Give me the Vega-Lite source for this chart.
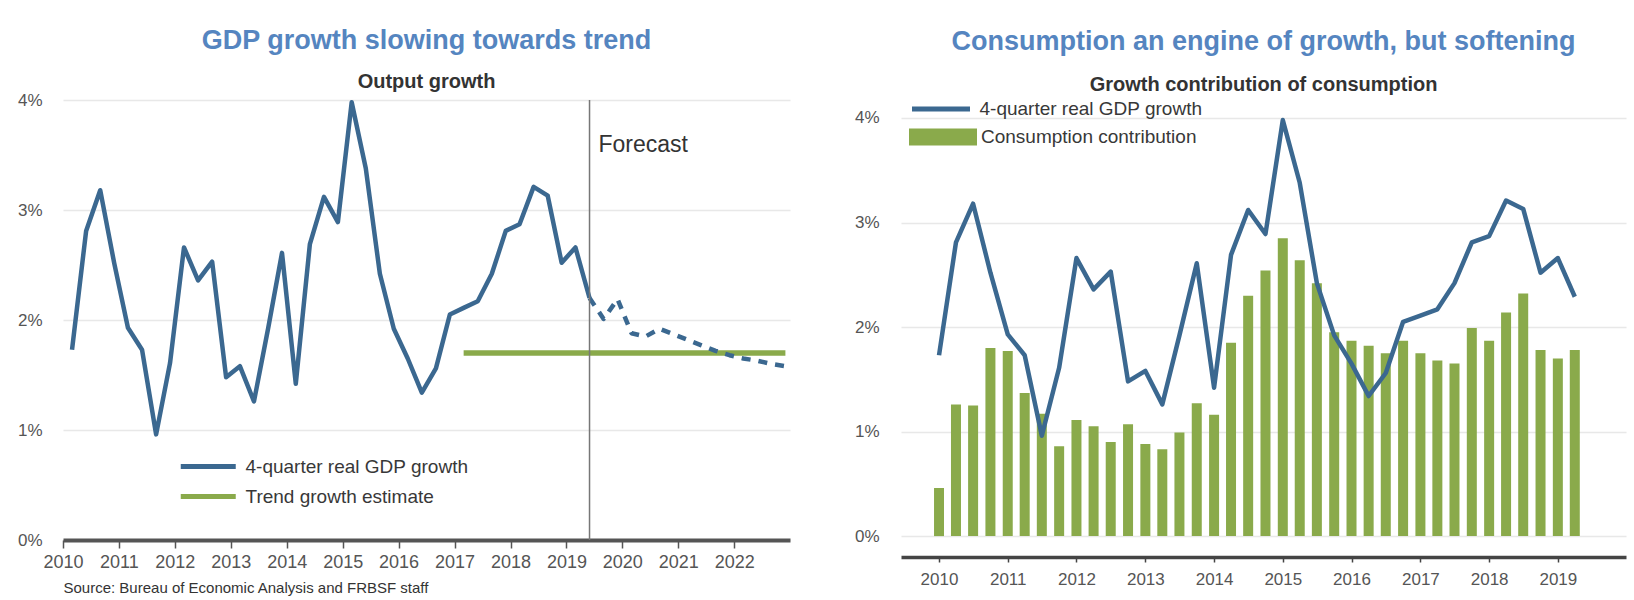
{
  "$schema": "https://vega.github.io/schema/vega-lite/v6.json",
  "background": "white",
  "padding": {"left": 17, "top": 27, "right": 4, "bottom": 4},
  "spacing": 57,
  "config": {
    "font": "Liberation Sans",
    "view": {"stroke": null},
    "axis": {"labelFont": "Liberation Sans", "titleFont": "Liberation Sans", "labelColor": "#555555", "labelFontSize": 17},
    "legend": {"labelFont": "Liberation Sans", "labelFontSize": 19, "labelColor": "#383838", "title": null, "labelLimit": 0},
    "title": {"font": "Liberation Sans", "subtitleFont": "Liberation Sans", "anchor": "middle", "fontSize": 27, "fontWeight": "bold", "color": "#5585c0", "subtitleFontSize": 20, "subtitleFontWeight": "bold", "subtitleColor": "#333333"}
  },
  "datasets": {
    "actual": [
      {"date": "2010-03-01", "gdp": 1.73}, {"date": "2010-06-01", "gdp": 2.81}, {"date": "2010-09-01", "gdp": 3.18}, {"date": "2010-12-01", "gdp": 2.52},
      {"date": "2011-03-01", "gdp": 1.93}, {"date": "2011-06-01", "gdp": 1.73}, {"date": "2011-09-01", "gdp": 0.96}, {"date": "2011-12-01", "gdp": 1.61},
      {"date": "2012-03-01", "gdp": 2.66}, {"date": "2012-06-01", "gdp": 2.36}, {"date": "2012-09-01", "gdp": 2.53}, {"date": "2012-12-01", "gdp": 1.48},
      {"date": "2013-03-01", "gdp": 1.58}, {"date": "2013-06-01", "gdp": 1.26}, {"date": "2013-09-01", "gdp": 1.92}, {"date": "2013-12-01", "gdp": 2.61},
      {"date": "2014-03-01", "gdp": 1.42}, {"date": "2014-06-01", "gdp": 2.69}, {"date": "2014-09-01", "gdp": 3.12}, {"date": "2014-12-01", "gdp": 2.89},
      {"date": "2015-03-01", "gdp": 3.98}, {"date": "2015-06-01", "gdp": 3.38}, {"date": "2015-09-01", "gdp": 2.42}, {"date": "2015-12-01", "gdp": 1.92},
      {"date": "2016-03-01", "gdp": 1.65}, {"date": "2016-06-01", "gdp": 1.34}, {"date": "2016-09-01", "gdp": 1.56}, {"date": "2016-12-01", "gdp": 2.05},
      {"date": "2017-03-01", "gdp": 2.11}, {"date": "2017-06-01", "gdp": 2.17}, {"date": "2017-09-01", "gdp": 2.42}, {"date": "2017-12-01", "gdp": 2.81},
      {"date": "2018-03-01", "gdp": 2.87}, {"date": "2018-06-01", "gdp": 3.21}, {"date": "2018-09-01", "gdp": 3.13}, {"date": "2018-12-01", "gdp": 2.52},
      {"date": "2019-03-01", "gdp": 2.66}, {"date": "2019-06-01", "gdp": 2.20}
    ],
    "forecast": [
      {"date": "2019-06-01", "gdp": 2.20}, {"date": "2019-09-01", "gdp": 2.01}, {"date": "2019-12-01", "gdp": 2.19},
      {"date": "2020-03-01", "gdp": 1.88}, {"date": "2020-06-01", "gdp": 1.85}, {"date": "2020-09-01", "gdp": 1.92}, {"date": "2020-12-01", "gdp": 1.87},
      {"date": "2021-03-01", "gdp": 1.82}, {"date": "2021-06-01", "gdp": 1.77}, {"date": "2021-09-01", "gdp": 1.72}, {"date": "2021-12-01", "gdp": 1.68},
      {"date": "2022-03-01", "gdp": 1.65}, {"date": "2022-06-01", "gdp": 1.63}, {"date": "2022-09-01", "gdp": 1.60}, {"date": "2022-12-01", "gdp": 1.58}
    ],
    "trend": [
      {"date": "2017-03-01", "gdp": 1.7}, {"date": "2022-12-01", "gdp": 1.7}
    ],
    "marker": [
      {"date": "2019-06-01", "gdp": 3.59, "label": "Forecast"}
    ],
    "cons": [
      {"date": "2010-01-01", "gdp": 1.73, "cons": 0.46}, {"date": "2010-04-01", "gdp": 2.81, "cons": 1.26}, {"date": "2010-07-01", "gdp": 3.18, "cons": 1.25}, {"date": "2010-10-01", "gdp": 2.52, "cons": 1.80},
      {"date": "2011-01-01", "gdp": 1.93, "cons": 1.77}, {"date": "2011-04-01", "gdp": 1.73, "cons": 1.37}, {"date": "2011-07-01", "gdp": 0.96, "cons": 1.17}, {"date": "2011-10-01", "gdp": 1.61, "cons": 0.86},
      {"date": "2012-01-01", "gdp": 2.66, "cons": 1.11}, {"date": "2012-04-01", "gdp": 2.36, "cons": 1.05}, {"date": "2012-07-01", "gdp": 2.53, "cons": 0.90}, {"date": "2012-10-01", "gdp": 1.48, "cons": 1.07},
      {"date": "2013-01-01", "gdp": 1.58, "cons": 0.88}, {"date": "2013-04-01", "gdp": 1.26, "cons": 0.83}, {"date": "2013-07-01", "gdp": 1.92, "cons": 0.99}, {"date": "2013-10-01", "gdp": 2.61, "cons": 1.27},
      {"date": "2014-01-01", "gdp": 1.42, "cons": 1.16}, {"date": "2014-04-01", "gdp": 2.69, "cons": 1.85}, {"date": "2014-07-01", "gdp": 3.12, "cons": 2.30}, {"date": "2014-10-01", "gdp": 2.89, "cons": 2.54},
      {"date": "2015-01-01", "gdp": 3.98, "cons": 2.85}, {"date": "2015-04-01", "gdp": 3.38, "cons": 2.64}, {"date": "2015-07-01", "gdp": 2.42, "cons": 2.42}, {"date": "2015-10-01", "gdp": 1.92, "cons": 1.95},
      {"date": "2016-01-01", "gdp": 1.65, "cons": 1.87}, {"date": "2016-04-01", "gdp": 1.34, "cons": 1.82}, {"date": "2016-07-01", "gdp": 1.56, "cons": 1.75}, {"date": "2016-10-01", "gdp": 2.05, "cons": 1.87},
      {"date": "2017-01-01", "gdp": 2.11, "cons": 1.75}, {"date": "2017-04-01", "gdp": 2.17, "cons": 1.68}, {"date": "2017-07-01", "gdp": 2.42, "cons": 1.65}, {"date": "2017-10-01", "gdp": 2.81, "cons": 1.99},
      {"date": "2018-01-01", "gdp": 2.87, "cons": 1.87}, {"date": "2018-04-01", "gdp": 3.21, "cons": 2.14}, {"date": "2018-07-01", "gdp": 3.13, "cons": 2.32}, {"date": "2018-10-01", "gdp": 2.52, "cons": 1.78},
      {"date": "2019-01-01", "gdp": 2.66, "cons": 1.70}, {"date": "2019-04-01", "gdp": 2.29, "cons": 1.78}
    ]
  },
  "resolve": {
    "scale": {"x": "independent", "y": "independent", "stroke": "independent", "fill": "independent"},
    "legend": {"stroke": "independent", "fill": "independent"}
  },
  "hconcat": [
    {
      "width": 727,
      "height": 440,
      "title": {"text": "GDP growth slowing towards trend", "subtitle": "Output growth", "offset": -2, "subtitlePadding": 17},
      "layer": [
        {
          "data": {"name": "trend"},
          "mark": {"type": "line", "strokeWidth": 5.5},
          "encoding": {
            "x": {
              "field": "date", "type": "temporal",
              "scale": {"type": "utc", "nice": false, "padding": 0, "domain": [{"year": 2010, "month": 1, "date": 1, "utc": true}, {"year": 2022, "month": 12, "date": 31, "utc": true}]},
              "axis": {
                "title": "Source: Bureau of Economic Analysis and FRBSF staff",
                "titleAnchor": "start", "titleAlign": "left", "titleFontSize": 15, "titleFontWeight": "normal", "titleColor": "#333333", "titlePadding": 9,
                "format": "%Y", "formatType": "utc", "tickCount": {"interval": "year", "step": 1}, "labelFlush": false, "labelOverlap": false, "labelFontSize": 18,
                "grid": false, "domainColor": "#555555", "domainWidth": 4, "tickColor": "#555555", "tickWidth": 1.5, "tickSize": 8, "labelPadding": 5
              }
            },
            "y": {
              "field": "gdp", "type": "quantitative",
              "scale": {"domain": [0, 4], "nice": false},
              "axis": {"title": null, "values": [0, 1, 2, 3, 4], "labelExpr": "datum.value + '%'", "domain": false, "ticks": false, "grid": true, "gridColor": "#e8e8e8", "gridWidth": 1.5, "labelPadding": 21}
            },
            "stroke": {
              "datum": "Trend growth estimate",
              "scale": {"domain": ["4-quarter real GDP growth", "Trend growth estimate"], "range": ["#3b6890", "#8aaa4b"]},
              "legend": {"orient": "none", "legendX": 128.75, "legendY": 350, "symbolType": "M-2,0H2", "symbolSize": 756, "symbolStrokeWidth": 5, "labelOffset": 20.75, "rowPadding": 3}
            }
          }
        },
        {
          "data": {"name": "actual"},
          "mark": {"type": "line", "strokeWidth": 4.5, "strokeJoin": "round"},
          "encoding": {
            "x": {"field": "date", "type": "temporal"},
            "y": {"field": "gdp", "type": "quantitative"},
            "stroke": {"datum": "4-quarter real GDP growth"}
          }
        },
        {
          "data": {"name": "forecast"},
          "mark": {"type": "line", "strokeWidth": 4.5, "strokeJoin": "round", "color": "#3b6890", "strokeDash": [9, 8]},
          "encoding": {
            "x": {"field": "date", "type": "temporal"},
            "y": {"field": "gdp", "type": "quantitative"}
          }
        },
        {
          "data": {"name": "marker"},
          "mark": {"type": "rule", "color": "#777777", "strokeWidth": 1.5},
          "encoding": {
            "x": {"field": "date", "type": "temporal"}
          }
        },
        {
          "data": {"name": "marker"},
          "mark": {"type": "text", "align": "left", "baseline": "middle", "dx": 9, "fontSize": 23, "color": "#333333", "font": "Liberation Sans"},
          "encoding": {
            "x": {"field": "date", "type": "temporal"},
            "y": {"field": "gdp", "type": "quantitative"},
            "text": {"field": "label"}
          }
        }
      ]
    },
    {
      "width": 725,
      "height": 457,
      "title": {"text": "Consumption an engine of growth, but softening", "subtitle": "Growth contribution of consumption", "offset": -18.5, "subtitlePadding": 19},
      "layer": [
        {
          "data": {"name": "cons"},
          "mark": {"type": "bar", "size": 10},
          "encoding": {
            "x": {
              "field": "date", "type": "temporal",
              "scale": {"type": "utc", "nice": false, "padding": 0, "domain": [{"year": 2009, "month": 6, "date": 13, "utc": true}, {"year": 2019, "month": 12, "date": 29, "utc": true}]},
              "axis": {
                "title": null, "format": "%Y", "formatType": "utc", "tickCount": {"interval": "year", "step": 1}, "labelFlush": false, "labelOverlap": false,
                "grid": false, "domainColor": "#444444", "domainWidth": 3.5, "tickColor": "#444444", "tickWidth": 1.5, "tickSize": 5, "labelPadding": 9
              }
            },
            "y": {
              "field": "cons", "type": "quantitative",
              "scale": {"domain": [-0.2, 4.172], "nice": false, "zero": false},
              "axis": {"title": null, "values": [0, 1, 2, 3, 4], "labelExpr": "datum.value + '%'", "domain": false, "ticks": false, "grid": true, "gridColor": "#e8e8e8", "gridWidth": 1.5, "labelPadding": 22}
            },
            "fill": {
              "datum": "Consumption contribution",
              "scale": {"range": ["#8aaa4b"]},
              "legend": {"orient": "none", "legendX": 8, "legendY": 3, "symbolType": "M-1,-0.25H1V0.25H-1Z", "symbolSize": 4624, "symbolStrokeWidth": 0, "labelOffset": 4}
            }
          }
        },
        {
          "data": {"name": "cons"},
          "mark": {"type": "line", "strokeWidth": 4.5, "strokeJoin": "round"},
          "encoding": {
            "x": {"field": "date", "type": "temporal"},
            "y": {"field": "gdp", "type": "quantitative"},
            "stroke": {
              "datum": "4-quarter real GDP growth",
              "scale": {"range": ["#3b6890"]},
              "legend": {"orient": "none", "legendX": 8.5, "legendY": -22.5, "symbolType": "stroke", "symbolSize": 3364, "symbolStrokeWidth": 5, "labelOffset": 7}
            }
          }
        }
      ]
    }
  ]
}
